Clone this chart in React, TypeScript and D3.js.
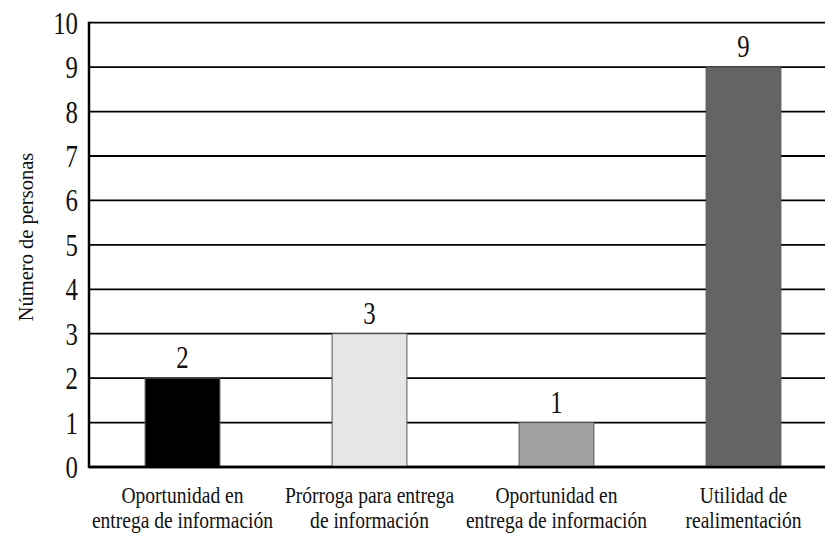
import React from "react";
import * as d3 from "d3";

const categories = [
  ["Oportunidad en", "entrega de información"],
  ["Prórroga para entrega", "de información"],
  ["Oportunidad en", "entrega de información"],
  ["Utilidad de", "realimentación"],
];
const values = [2, 3, 1, 9];
const fills = ["#000000", "#e6e6e6", "#a0a0a0", "#646464"];
const yTicks = [0, 1, 2, 3, 4, 5, 6, 7, 8, 9, 10];
const yTitle = "Número de personas";

const W = 825;
const H = 535;
const left = 89;
const right = 837;
const top = 22.7;
const bottom = 467;
const FONT = "'Liberation Serif', 'DejaVu Serif', serif";

export default function App() {
  const idx = values.map((_, i) => String(i));
  const x = d3.scaleBand<string>().domain(idx).range([left, right]).paddingInner(0.6).paddingOuter(0.3);
  const y = d3.scaleLinear().domain([0, 10]).range([bottom, top]);

  const Cond = ({ x: tx, y: ty, size, anchor, sx = 0.8, children }: any) => (
    <g transform={`translate(${tx},${ty}) scale(${sx},1)`}>
      <text fontFamily={FONT} fontSize={size} textAnchor={anchor} fill="#111">
        {children}
      </text>
    </g>
  );

  return (
    <svg width={W} height={H} style={{ position: "absolute", left: 0, top: 0, background: "#fff" }}>
      <rect x={0} y={0} width={W} height={H} fill="#fff" />
      {yTicks.map((t) => (
        <line key={t} x1={left} x2={W} y1={y(t)} y2={y(t)} stroke="#000" strokeWidth={t === 0 ? 2.5 : 1.8} />
      ))}
      {values.map((v, i) => (
        <rect
          key={i}
          x={x(String(i))}
          y={y(v)}
          width={x.bandwidth()}
          height={y(0) - y(v)}
          fill={fills[i]}
          stroke="#555"
          strokeWidth={1}
        />
      ))}
      <line x1={left} x2={W} y1={y(0)} y2={y(0)} stroke="#000" strokeWidth={2.5} />
      <line x1={left} x2={left} y1={top - 1} y2={bottom + 1} stroke="#000" strokeWidth={2.5} />
      {yTicks.map((t) => (
        <Cond key={t} x={78} y={y(t) + 11} size={31} anchor="end">
          {t}
        </Cond>
      ))}
      {values.map((v, i) => (
        <Cond key={i} x={(x(String(i)) as number) + x.bandwidth() / 2} y={y(v) - 10} size={31} anchor="middle">
          {v}
        </Cond>
      ))}
      {categories.map((lines, i) => (
        <g key={i}>
          {lines.map((ln, j) => (
            <Cond
              key={j}
              x={(x(String(i)) as number) + x.bandwidth() / 2}
              y={503 + j * 25}
              size={23}
              sx={0.85}
              anchor="middle"
            >
              {ln}
            </Cond>
          ))}
        </g>
      ))}
      <g transform="translate(33,237) rotate(-90)">
        <text fontFamily={FONT} fontSize={20.5} textAnchor="middle" fill="#111">
          {yTitle}
        </text>
      </g>
    </svg>
  );
}
